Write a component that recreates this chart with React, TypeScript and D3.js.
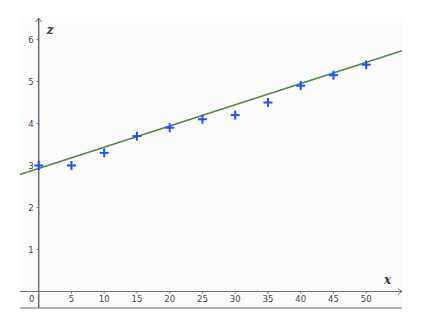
import React from "react";
import * as d3 from "d3";

const xValues = [0, 5, 10, 15, 20, 25, 30, 35, 40, 45, 50];
const zValues = [3, 3, 3.3, 3.7, 3.9, 4.1, 4.2, 4.5, 4.9, 5.15, 5.4];
const xTicks = [5, 10, 15, 20, 25, 30, 35, 40, 45, 50];
const yTicks = [1, 2, 3, 4, 5, 6];
const fitIntercept = 2.93;
const fitSlope = 0.0505;

export default function App() {
  const W = 448, H = 322;
  const left = 20, right = 402, top = 17, bottom = 308;
  const x = d3.scaleLinear().domain([0, 50]).range([38.7, 366.2]);
  const y = d3.scaleLinear().domain([0, 6]).range([291.5, 39.5]);
  const xMin = x.invert(left), xMax = x.invert(right);

  const line = d3.line<number>().x(d => x(d)).y(d => y(fitIntercept + fitSlope * d));

  const axisColor = "#6e6e6e";
  const font = "'DejaVu Sans', sans-serif";
  const x0 = x(0), y0 = y(0);

  return (
    <svg width={W} height={H} style={{ position: "absolute", left: 0, top: 0 }}>
      <rect x={0} y={0} width={W} height={H} fill="#ffffff" />
      <rect x={left} y={top} width={right - left} height={bottom - top} fill="#fcfcfc" />
      <line x1={left} x2={right} y1={bottom} y2={bottom} stroke="#9a9a9a" strokeWidth={1.5} />
      {/* axes */}
      <line x1={x0} x2={x0} y1={top + 1} y2={bottom} stroke={axisColor} strokeWidth={1.5} />
      <line x1={left} x2={right} y1={y0} y2={y0} stroke={axisColor} strokeWidth={1.2} />
      <path d={`M${x0 - 3},${top + 5} L${x0},${top + 1} L${x0 + 3},${top + 5}`} fill="none" stroke={axisColor} strokeWidth={1} />
      <path d={`M${right - 4},${y0 - 3} L${right},${y0} L${right - 4},${y0 + 3}`} fill="none" stroke={axisColor} strokeWidth={1} />
      {yTicks.map(t => (
        <g key={"y" + t}>
          <line x1={x0 - 2} x2={x0} y1={y(t)} y2={y(t)} stroke={axisColor} strokeWidth={1} />
          <text x={x0 - 5} y={y(t) + 3} textAnchor="end" fontSize={8.5} fontFamily={font} fill="#444">{t}</text>
        </g>
      ))}
      {xTicks.map(t => (
        <g key={"x" + t}>
          <line x1={x(t)} x2={x(t)} y1={y0} y2={y0 + 2} stroke={axisColor} strokeWidth={1} />
          <text x={x(t)} y={y0 + 10} textAnchor="middle" fontSize={8.5} fontFamily={font} fill="#444">{t}</text>
        </g>
      ))}
      <text x={x0 - 7} y={y0 + 10} textAnchor="middle" fontSize={8.5} fontFamily={font} fill="#444">0</text>
      <text x={x0 + 8} y={34} fontSize={12} fontStyle="italic" fontWeight="bold" fontFamily="'DejaVu Serif', serif" fill="#333">z</text>
      <text x={384} y={284} fontSize={12} fontStyle="italic" fontWeight="bold" fontFamily="'DejaVu Serif', serif" fill="#333">x</text>
      {/* fit line */}
      <path d={line([xMin, xMax]) || ""} fill="none" stroke="#4f8a3f" strokeWidth={1.6} />
      {/* points */}
      {xValues.map((v, i) => (
        <g key={"p" + i} stroke="#1f4fff" strokeWidth={2}>
          <line x1={x(v) - 4.5} x2={x(v) + 4.5} y1={y(zValues[i])} y2={y(zValues[i])} />
          <line x1={x(v)} x2={x(v)} y1={y(zValues[i]) - 4.5} y2={y(zValues[i]) + 4.5} />
        </g>
      ))}
    </svg>
  );
}
